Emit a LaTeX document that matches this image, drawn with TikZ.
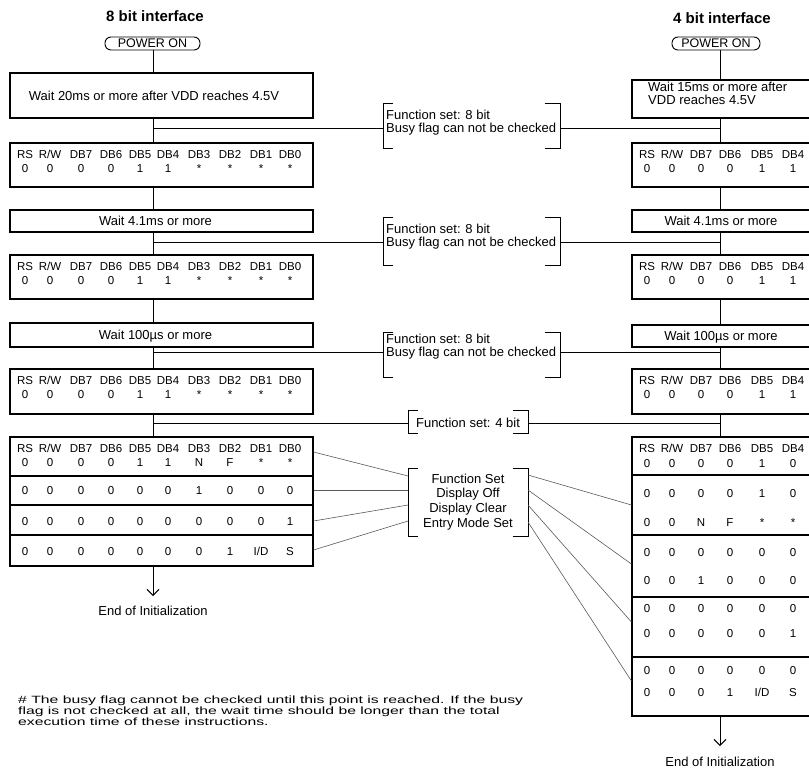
\documentclass[tikz,border=0pt]{standalone}
\usepackage{fontspec}
\setmainfont{Liberation Sans}
\newfontfamily\widefont{Liberation Sans}[FakeStretch=1.5]
\usetikzlibrary{arrows.meta}
\tikzset{
  box/.style={draw, line width=1.1pt, inner sep=0pt},
  pill/.style={draw, line width=0.9pt, rounded corners=6pt, inner sep=0pt, font=\fontsize{12.5}{14}\selectfont},
  title/.style={anchor=base, inner sep=0pt, font=\fontsize{15}{17}\selectfont\bfseries},
  btxt/.style={anchor=base, inner sep=0pt, font=\fontsize{13}{15}\selectfont},
  ltxt/.style={anchor=base west, inner sep=0pt, font=\fontsize{13}{15}\selectfont},
  tbl/.style={anchor=base, inner sep=0pt, font=\fontsize{11.5}{13}\selectfont},
  ftxt/.style={anchor=base west, inner sep=0pt, font=\widefont\fontsize{10.5}{10}\selectfont},
  conn/.style={line width=1pt},
  brk/.style={line width=1pt},
  thin/.style={line width=0.6pt, draw=black!65},
  endarrow/.style={line width=1pt, -{Straight Barb[length=6pt,width=12pt]}}
}
\newcommand\mybrk[4]{%
  \draw[brk] (#1+10,#2) -- (#1,#2) -- (#1,#4) -- (#1+10,#4);
  \draw[brk] (#3-15,#2) -- (#3,#2) -- (#3,#4) -- (#3-15,#4);}
\newcommand\lrow[3]{%
  \foreach \v [count=\i] in {#3} {%
    \pgfmathsetmacro\xx{{25,50,81,111,140,168,199,230,261,290}[\i-1]}%
    \node[tbl] (#1-\i) at (\xx,#2) {\v};}}
\newcommand\rrow[3]{%
  \foreach \v [count=\i] in {#3} {%
    \pgfmathsetmacro\xx{{647,672,701,730,762,793}[\i-1]}%
    \node[tbl] (#1-\i) at (\xx,#2) {\v};}}
\begin{document}
\begin{tikzpicture}[x=1pt,y=-1pt]
\useasboundingbox (0,0) rectangle (809,769);

% column axes
\coordinate (cl) at (153,0);
\coordinate (cr) at (720,0);

% titles
\node[title] (t8) at (155,21.5) {8 bit interface};
\node[title] (t4) at (722,23.5) {4 bit interface};

% power on
\node[pill, minimum width=95pt, minimum height=13pt] (PL) at (152.5,43.5) {POWER ON};
\node[pill, minimum width=88pt, minimum height=13pt] (PR) at (716,43.5) {POWER ON};

% ---------------- left column boxes
\node[box, minimum width=303pt, minimum height=45pt] (L1) at (161.5,95.5) {};
\node[box, minimum width=303pt, minimum height=44pt] (L2) at (161.5,165) {};
\node[box, minimum width=303pt, minimum height=22pt] (L3) at (161.5,221) {};
\node[box, minimum width=303pt, minimum height=44pt] (L4) at (161.5,277) {};
\node[box, minimum width=303pt, minimum height=24pt] (L5) at (161.5,335) {};
\node[box, minimum width=303pt, minimum height=45pt] (L6) at (161.5,391.5) {};
\node[box, minimum width=303pt, minimum height=129pt] (L7) at (161.5,501.5) {};
\draw[box] (L7.west |- 0,476) -- (L7.east |- 0,476);
\draw[box] (L7.west |- 0,505) -- (L7.east |- 0,505);
\draw[box] (L7.west |- 0,535) -- (L7.east |- 0,535);

\node[btxt] (L1t) at (154,100.2) {Wait 20ms or more after VDD reaches 4.5V};
\node[btxt] (L3t) at (155.5,225.7) {Wait 4.1ms or more};
\node[btxt] (L5t) at (155.5,339.7) {Wait 100µs or more};

\lrow{L2h}{158}{RS,R/W,DB7,DB6,DB5,DB4,DB3,DB2,DB1,DB0}
\lrow{L2v}{172}{0,0,0,0,1,1,*,*,*,*}
\lrow{L4h}{270}{RS,R/W,DB7,DB6,DB5,DB4,DB3,DB2,DB1,DB0}
\lrow{L4v}{284}{0,0,0,0,1,1,*,*,*,*}
\lrow{L6h}{384}{RS,R/W,DB7,DB6,DB5,DB4,DB3,DB2,DB1,DB0}
\lrow{L6v}{398}{0,0,0,0,1,1,*,*,*,*}
\lrow{L7h}{452}{RS,R/W,DB7,DB6,DB5,DB4,DB3,DB2,DB1,DB0}
\lrow{L7a}{466}{0,0,0,0,1,1,N,F,*,*}
\lrow{L7b}{494}{0,0,0,0,0,0,1,0,0,0}
\lrow{L7c}{525}{0,0,0,0,0,0,0,0,0,1}
\lrow{L7d}{555}{0,0,0,0,0,0,0,1,I/D,S}

% ---------------- right column boxes
\node[box, minimum width=178pt, minimum height=38pt] (R1) at (721,99) {};
\node[box, minimum width=178pt, minimum height=44pt] (R2) at (721,165) {};
\node[box, minimum width=178pt, minimum height=22pt] (R3) at (721,221) {};
\node[box, minimum width=178pt, minimum height=44pt] (R4) at (721,277) {};
\node[box, minimum width=178pt, minimum height=22pt] (R5) at (721,336) {};
\node[box, minimum width=178pt, minimum height=45pt] (R6) at (721,391.5) {};
\node[box, minimum width=178pt, minimum height=279pt] (R7) at (721,576.5) {};
\draw[box] (R7.west |- 0,475) -- (R7.east |- 0,475);
\draw[box] (R7.west |- 0,535) -- (R7.east |- 0,535);
\draw[box] (R7.west |- 0,597) -- (R7.east |- 0,597);
\draw[box] (R7.west |- 0,657) -- (R7.east |- 0,657);

\node[ltxt] (R1a) at (648,91.7) {Wait 15ms or more after};
\node[ltxt] (R1b) at (648,104.7) {VDD reaches 4.5V};
\node[btxt] (R3t) at (721,225.7) {Wait 4.1ms or more};
\node[btxt] (R5t) at (721,340.7) {Wait 100µs or more};

\rrow{R2h}{158}{RS,R/W,DB7,DB6,DB5,DB4}
\rrow{R2v}{172}{0,0,0,0,1,1}
\rrow{R4h}{270}{RS,R/W,DB7,DB6,DB5,DB4}
\rrow{R4v}{284}{0,0,0,0,1,1}
\rrow{R6h}{384}{RS,R/W,DB7,DB6,DB5,DB4}
\rrow{R6v}{398}{0,0,0,0,1,1}
\rrow{R7h}{452}{RS,R/W,DB7,DB6,DB5,DB4}
\rrow{R7a}{467}{0,0,0,0,1,0}
\rrow{R7b}{497}{0,0,0,0,1,0}
\rrow{R7c}{526}{0,0,N,F,*,*}
\rrow{R7d}{556}{0,0,0,0,0,0}
\rrow{R7e}{584}{0,0,1,0,0,0}
\rrow{R7f}{612}{0,0,0,0,0,0}
\rrow{R7g}{637}{0,0,0,0,0,1}
\rrow{R7i}{674}{0,0,0,0,0,0}
\rrow{R7j}{696}{0,0,0,1,I/D,S}

% ---------------- vertical flow lines
\draw[conn] (PL.south -| cl) -- (cl |- L1.north);
\draw[conn] (cl |- L1.south) -- (cl |- L2.north);
\draw[conn] (cl |- L2.south) -- (cl |- L3.north);
\draw[conn] (cl |- L3.south) -- (cl |- L4.north);
\draw[conn] (cl |- L4.south) -- (cl |- L5.north);
\draw[conn] (cl |- L5.south) -- (cl |- L6.north);
\draw[conn] (cl |- L6.south) -- (cl |- L7.north);
\draw[conn] (PR.south -| cr) -- (cr |- R1.north);
\draw[conn] (cr |- R1.south) -- (cr |- R2.north);
\draw[conn] (cr |- R2.south) -- (cr |- R3.north);
\draw[conn] (cr |- R3.south) -- (cr |- R4.north);
\draw[conn] (cr |- R4.south) -- (cr |- R5.north);
\draw[conn] (cr |- R5.south) -- (cr |- R6.north);
\draw[conn] (cr |- R6.south) -- (cr |- R7.north);

% ---------------- brackets "Function set: 8 bit"
\mybrk{383}{103}{560}{148}
\node[ltxt] (B1a) at (386,119.7) {Function set: 8 bit};
\node[ltxt] (B1b) at (386,132.7) {Busy flag can not be checked};
\coordinate (b1l) at (383,128); \coordinate (b1r) at (560,128);
\draw[conn] (cl |- b1l) -- (b1l);
\draw[conn] (b1r) -- (cr |- b1r);

\mybrk{383}{217}{560}{265}
\node[ltxt] (B2a) at (386,233.7) {Function set: 8 bit};
\node[ltxt] (B2b) at (386,246.7) {Busy flag can not be checked};
\coordinate (b2l) at (383,242); \coordinate (b2r) at (560,242);
\draw[conn] (cl |- b2l) -- (b2l);
\draw[conn] (b2r) -- (cr |- b2r);

\mybrk{383}{332}{560}{377}
\node[ltxt] (B3a) at (386,343.7) {Function set: 8 bit};
\node[ltxt] (B3b) at (386,356.7) {Busy flag can not be checked};
\coordinate (b3l) at (383,352); \coordinate (b3r) at (560,352);
\draw[conn] (cl |- b3l) -- (b3l);
\draw[conn] (b3r) -- (cr |- b3r);

% Function set: 4 bit
\mybrk{408}{410}{528}{433}
\node[btxt] (B4t) at (468,427.5) {Function set: 4 bit};
\coordinate (b4l) at (408,423); \coordinate (b4r) at (528,423);
\draw[conn] (cl |- b4l) -- (b4l);
\draw[conn] (b4r) -- (cr |- b4r);

% Function Set / Display Off / Display Clear / Entry Mode Set
\mybrk{408}{468}{528}{536}
\node[btxt] (B5a) at (468,483.7) {Function Set};
\node[btxt] (B5b) at (468,497.7) {Display Off};
\node[btxt] (B5c) at (468,512.7) {Display Clear};
\node[btxt] (B5d) at (468,527.7) {Entry Mode Set};

\coordinate (k1) at (408,476); \coordinate (k2) at (408,490);
\coordinate (k3) at (408,505); \coordinate (k4) at (408,521);
\draw[thin] (L7.east |- 0,452) -- (k1);
\draw[thin] (L7.east |- 0,490) -- (k2);
\draw[thin] (L7.east |- 0,521) -- (k3);
\draw[thin] (L7.east |- 0,550) -- (k4);

\coordinate (m1) at (528,475); \coordinate (m2) at (528,490);
\coordinate (m3) at (528,505); \coordinate (m4) at (528,522);
\draw[thin] (m1) -- (R7.west |- 0,505);
\draw[thin] (m2) -- (R7.west |- 0,564);
\draw[thin] (m3) -- (R7.west |- 0,622);
\draw[thin] (m4) -- (R7.west |- 0,681);

% ---------------- end
\coordinate (el) at (153,596);
\coordinate (er) at (720,746);
\draw[endarrow] (cl |- L7.south) -- (el);
\draw[endarrow] (cr |- R7.south) -- (er);
\node[btxt] (E1) at (153,615.5) {End of Initialization};
\node[btxt] (E2) at (720,766) {End of Initialization};

% ---------------- footnote
\node[ftxt] (fn1) at (18,703) {\# The busy flag cannot be checked until this point is reached. If the busy};
\node[ftxt] (fn2) at (18,714) {flag is not checked at all, the wait time should be longer than the total};
\node[ftxt] (fn3) at (18,725) {execution time of these instructions.};
\end{tikzpicture}
\end{document}
